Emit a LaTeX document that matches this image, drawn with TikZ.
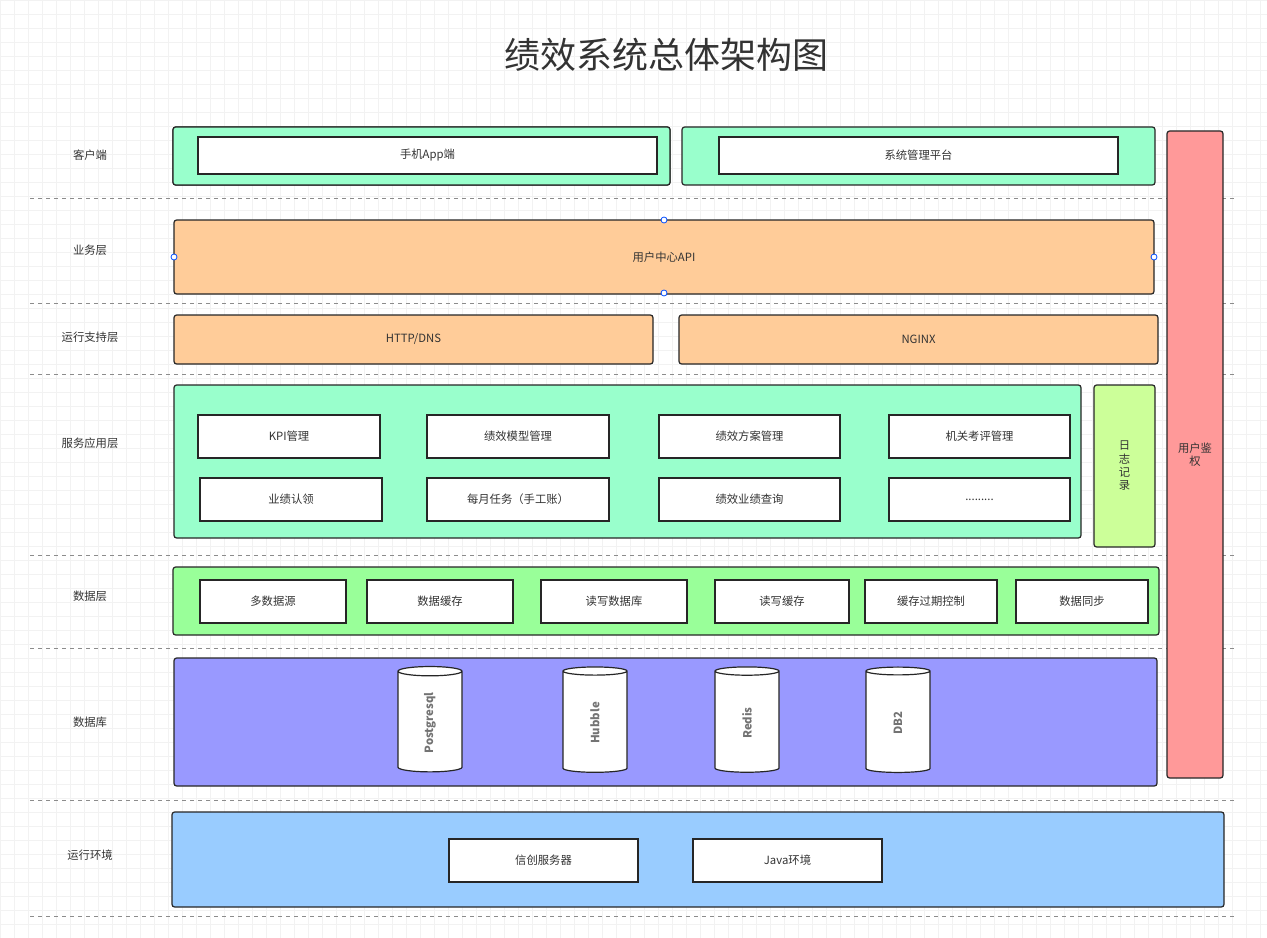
\documentclass[tikz,border=0pt]{standalone}
\usepackage{fontspec}
\setmainfont{Noto Sans CJK SC}
\usetikzlibrary{shapes.geometric}
\begin{document}
\begin{tikzpicture}[x=0.75pt,y=-0.75pt,
  box/.style={draw=black!85,line width=0.9pt,rounded corners=2pt},
  inner/.style={draw=black!85,line width=0.9pt,fill=white},
  lbl/.style={font=\fontsize{8.5}{10}\selectfont,text=black!80},
  sep/.style={draw=black!45,dashed,line width=0.6pt},
  db/.style={cylinder,draw=black!85,line width=0.9pt,fill=white,rotate=90,minimum width=48pt,minimum height=79pt,aspect=0.45,text=black!55,font=\fontsize{8.5}{10}\selectfont\bfseries}]
\useasboundingbox (0,0) rectangle (1267,938);
\fill[white] (0,0) rectangle (1267,938);
\foreach \i in {0,14,...,1267} \draw[black!5,line width=0.4pt] (\i,0) -- (\i,938);
\foreach \i in {0,14,...,938} \draw[black!5,line width=0.4pt] (0,\i) -- (1267,\i);
\newcommand{\bx}[7]{\draw[box,fill=#6] (#2,#3) rectangle (#4,#5) node[lbl,midway,align=center] (#1) {#7};}
\newcommand{\ib}[6]{\draw[inner] (#2,#3) rectangle (#4,#5) node[lbl,midway] (#1) {#6};}
\node[font=\fontsize{27}{30}\selectfont,text=black!80] (title) at (666,55) {绩效系统总体架构图};
\foreach \y in {198,303,374,555,648,800,916} \draw[sep] (30,\y) -- (1235,\y);
\foreach \n/\y/\t in {l1/155/客户端,l2/250/业务层,l3/337/运行支持层,l4/443/服务应用层,l5/596/数据层,l6/722/数据库,l7/855/运行环境}
  \node[lbl] (\n) at (90,\y) {\t};
% client
\bx{c1}{173}{127}{670}{185}{green!40!cyan!25!white!70!green}{}
\fill[white] (0,0) rectangle (0,0);
\draw[box,fill={rgb,255:red,153;green,255;blue,204}] (173,127) rectangle (670,185);
\draw[box,fill={rgb,255:red,153;green,255;blue,204}] (682,127) rectangle (1155,185);
\ib{app}{198}{137}{657}{174}{手机App端}
\ib{mgr}{719}{137}{1118}{174}{系统管理平台}
% auth
\bx{auth}{1167}{131}{1223}{778}{{rgb,255:red,255;green,153;blue,153}}{}
\node[lbl,align=center] (authT) at (1195,455) {用户鉴\\权};
% api
\bx{api}{174}{220}{1154}{294}{{rgb,255:red,255;green,204;blue,153}}{用户中心API}
\foreach \p in {(664,220),(664,293),(174,257),(1154,257)} \draw[blue!70!cyan,fill=white,line width=0.6pt] \p circle (3);
\bx{http}{174}{315}{653}{364}{{rgb,255:red,255;green,204;blue,153}}{HTTP/DNS}
\bx{nginx}{679}{315}{1158}{364}{{rgb,255:red,255;green,204;blue,153}}{NGINX}
% service
\bx{svc}{174}{385}{1081}{538}{{rgb,255:red,153;green,255;blue,204}}{}
\bx{log}{1094}{385}{1155}{547}{{rgb,255:red,204;green,255;blue,153}}{日\\志\\记\\录}
\ib{s1}{198}{415}{380}{458}{KPI管理}
\ib{s2}{427}{415}{609}{458}{绩效模型管理}
\ib{s3}{659}{415}{840}{458}{绩效方案管理}
\ib{s4}{889}{415}{1070}{458}{机关考评管理}
\ib{s5}{200}{478}{382}{521}{业绩认领}
\ib{s6}{427}{478}{609}{521}{每月任务（手工账）}
\ib{s7}{659}{478}{840}{521}{绩效业绩查询}
\ib{s8}{889}{478}{1070}{521}{.........}
% data
\bx{data}{173}{567}{1159}{635}{{rgb,255:red,153;green,255;blue,153}}{}
\ib{d1}{200}{580}{346}{623}{多数据源}
\ib{d2}{367}{580}{513}{623}{数据缓存}
\ib{d3}{541}{580}{687}{623}{读写数据库}
\ib{d4}{715}{580}{849}{623}{读写缓存}
\ib{d5}{865}{580}{997}{623}{缓存过期控制}
\ib{d6}{1016}{580}{1148}{623}{数据同步}
% db
\bx{dbl}{174}{658}{1157}{786}{{rgb,255:red,153;green,153;blue,255}}{}
\node[db] (pg) at (430,723) {Postgresql};
\node[db] (hb) at (595,723) {Hubble};
\node[db] (rd) at (747,723) {Redis};
\node[db] (db2) at (898,723) {DB2};
% runtime
\bx{rt}{172}{812}{1224}{907}{{rgb,255:red,153;green,204;blue,255}}{}
\ib{r1}{449}{839}{638}{882}{信创服务器}
\ib{r2}{693}{839}{882}{882}{Java环境}
\end{tikzpicture}
\end{document}
